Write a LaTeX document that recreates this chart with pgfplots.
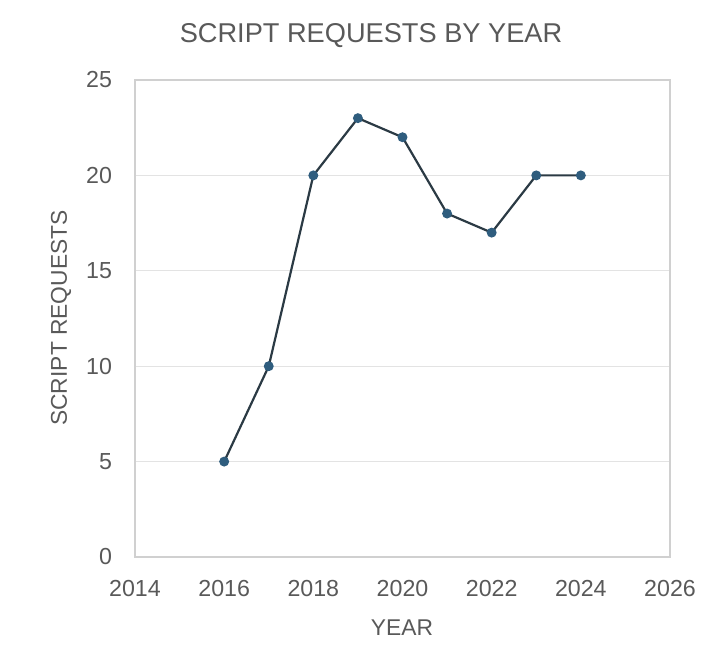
\documentclass[border=0pt]{standalone}
\usepackage{pgfplots}
\pgfplotsset{compat=1.18}
\usepackage{fontspec}
\setmainfont{Liberation Sans}
\definecolor{txt}{HTML}{595959}
\definecolor{ln}{HTML}{2B3A44}
\definecolor{mk}{HTML}{2F5D7E}
\definecolor{gr}{HTML}{E3E3E3}
\definecolor{ax}{HTML}{D0D0D0}
\begin{document}
\begin{tikzpicture}[x=0.5pt,y=0.5pt]
\path[use as bounding box] (0,0) rectangle (724,658);
\begin{axis}[
  at={(135*0.5pt,101*0.5pt)}, anchor=south west,
  scale only axis, width=267.5pt, height=238.5pt,
  xmin=2014, xmax=2026, ymin=0, ymax=25,
  xtick={2014,2016,...,2026}, ytick={0,5,...,25},
  xticklabel style={/pgf/number format/1000 sep={}},
  /pgf/number format/assume math mode=true,
  ticklabel style={font=\fontsize{11.6}{13}\selectfont, text=txt},
  major tick length=0pt,
  ymajorgrids, grid style={gr, line width=0.6pt},
  axis line style={ax, line width=0.6pt},
  xticklabel style={yshift=-8pt},
  yticklabel style={xshift=-8pt},
  clip=false,
]
\addplot[ln, line width=1.1pt, mark=*, mark size=1.9pt, mark options={fill=mk, draw=mk}]
  coordinates {(2016,5) (2017,10) (2018,20) (2019,23) (2020,22) (2021,18) (2022,17) (2023,20) (2024,20)};
\end{axis}
\node[text=txt, font=\fontsize{13.6}{15}\selectfont] at (371,622) {SCRIPT REQUESTS BY YEAR};
\node[text=txt, font=\fontsize{11.4}{13}\selectfont] at (402,30) {YEAR};
\node[text=txt, font=\fontsize{11.4}{13}\selectfont, rotate=90] at (61,340) {SCRIPT REQUESTS};
\end{tikzpicture}
\end{document}
